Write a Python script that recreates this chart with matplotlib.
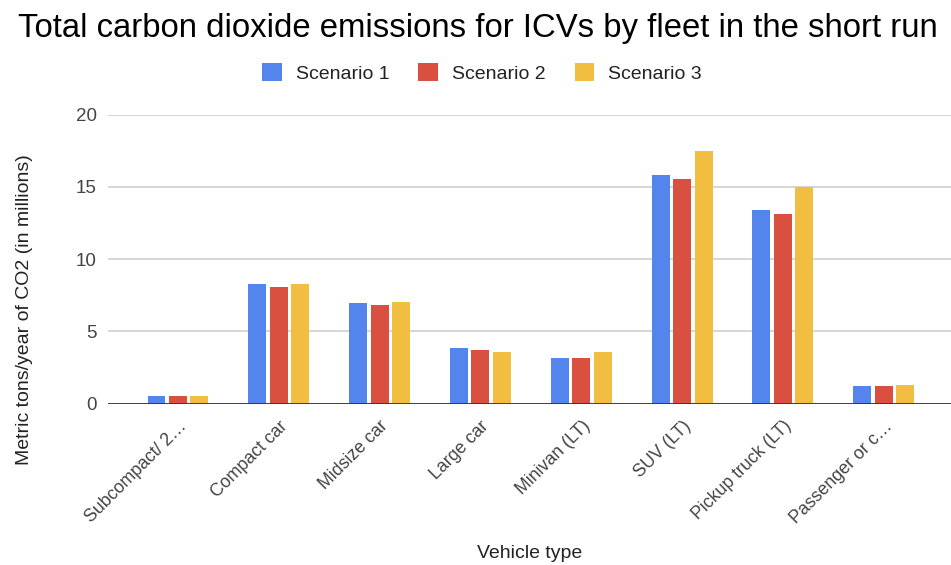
import numpy as np
import matplotlib
matplotlib.use("Agg")
import matplotlib.pyplot as plt
from matplotlib.patches import Patch

plt.rcParams['font.family'] = ['Liberation Sans', 'DejaVu Sans']

# Datos: emisiones por tipo de vehiculo (millones de toneladas/año)
vehiculos = ["Subcompact/ 2\u2026", "Compact car", "Midsize car", "Large car",
             "Minivan (LT)", "SUV (LT)", "Pickup truck (LT)", "Passenger or c\u2026"]
escenario1 = [0.5, 8.3, 6.95, 3.85, 3.15, 15.8, 13.4, 1.2]
escenario2 = [0.5, 8.1, 6.8, 3.75, 3.15, 15.55, 13.15, 1.2]
escenario3 = [0.5, 8.3, 7.05, 3.6, 3.6, 17.5, 15.0, 1.3]
nombres = ["Scenario 1", "Scenario 2", "Scenario 3"]
colores = ["#5385EC", "#D95040", "#F1BE42"]

W, H = 951, 565
fig = plt.figure(figsize=(W / 100, H / 100), dpi=100)
ax = fig.add_axes([108 / W, 1 - 403.7 / H, 843 / W, 289 / H])

x = np.arange(len(vehiculos))
ancho = 0.178
paso = 0.213
for i, serie in enumerate([escenario1, escenario2, escenario3]):
    ax.bar(x + (i - 1) * paso, serie, width=ancho, color=colores[i],
           label=nombres[i], zorder=3)

ax.set_xlim(-0.694, 7.667)
ax.set_ylim(0, 20)
ax.set_yticks([0, 5, 10, 15, 20])
ax.grid(axis='y', color='#cccccc', linewidth=1.1, zorder=0)
ax.axhline(0, color='#333333', linewidth=2, zorder=4)
for s in ax.spines.values():
    s.set_visible(False)

ax.tick_params(axis='y', length=0, pad=8, labelsize=13.5, labelcolor='#444444')
ax.tick_params(axis='x', length=0, pad=10, labelsize=12.8, labelcolor='#444444')
ax.set_xticks(x)
ax.set_xticklabels(vehiculos, rotation=45, ha='right', rotation_mode='anchor')

# Titulo y etiquetas de ejes
fig.text(18 / W, 1 - 37 / H, "Total carbon dioxide emissions for ICVs by fleet in the short run",
         fontsize=23.7, color='#000000', ha='left', va='baseline')
fig.text(530 / W, 1 - 553 / H, "Vehicle type", fontsize=14, color='#222222',
         ha='center', va='center')
fig.text(25 / W, 1 - 310 / H, "Metric tons/year of CO2 (in millions)", fontsize=14,
         color='#222222', rotation=90, ha='center', va='center')

handles = [Patch(facecolor=c, edgecolor='none') for c in colores]
fig.legend(handles, nombres, loc='center', bbox_to_anchor=(482 / W, 1 - 73 / H),
           ncol=3, frameon=False, fontsize=14, handlelength=1.0, handleheight=1.0,
           handletextpad=0.72, columnspacing=1.5, labelcolor='#222222')

fig.savefig("out.png", dpi=100)
